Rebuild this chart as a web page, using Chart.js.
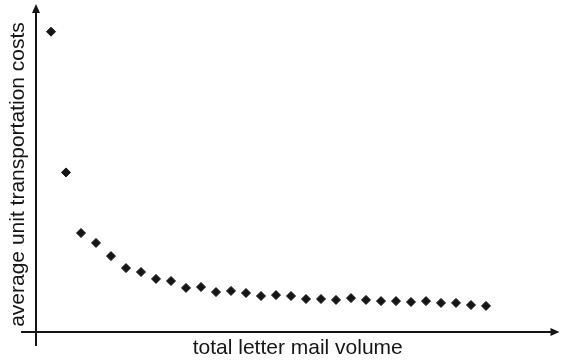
<!DOCTYPE html>
<html>
<head>
<meta charset="utf-8">
<script src="https://cdn.jsdelivr.net/npm/chart.js@4"></script>
<style>
  html, body { margin: 0; padding: 0; background: #fff; }
  #wrap { width: 565px; height: 361px; }
</style>
</head>
<body>
<div id="wrap"><canvas id="costChart" width="565" height="361"></canvas></div>
<script>
// letter mail volume (index) vs average unit transportation cost (arbitrary units)
const mailVolume = [1, 2, 3, 4, 5, 6, 7, 8, 9, 10, 11, 12, 13, 14, 15,
                    16, 17, 18, 19, 20, 21, 22, 23, 24, 25, 26, 27, 28, 29, 30];
const unitCosts = [10.01, 5.32, 3.30, 2.97, 2.53, 2.13, 2.00, 1.77, 1.70, 1.47,
                   1.50, 1.33, 1.37, 1.30, 1.20, 1.23, 1.20, 1.10, 1.10, 1.07,
                   1.13, 1.07, 1.03, 1.03, 1.00, 1.03, 0.97, 0.97, 0.90, 0.87];
const xTitle = 'total letter mail volume';
const yTitle = 'average unit transportation costs';

const ink = '#151515';

// axes drawn as plain lines with arrow heads, extending past the origin
const arrowAxes = {
    id: 'arrowAxes',
    beforeDatasetsDraw(chart) {
        const { ctx, chartArea: a } = chart;
        ctx.save();
        ctx.strokeStyle = ink;
        ctx.fillStyle = ink;
        ctx.lineWidth = 2;

        // y axis
        const yTip = a.top - 13;
        ctx.beginPath();
        ctx.moveTo(a.left, a.bottom + 14);
        ctx.lineTo(a.left, yTip + 6);
        ctx.stroke();
        ctx.beginPath();
        ctx.moveTo(a.left, yTip);
        ctx.lineTo(a.left - 4, yTip + 9);
        ctx.lineTo(a.left + 4, yTip + 9);
        ctx.closePath();
        ctx.fill();

        // x axis
        const xTip = a.right;
        ctx.beginPath();
        ctx.moveTo(a.left - 15, a.bottom);
        ctx.lineTo(xTip - 6, a.bottom);
        ctx.stroke();
        ctx.beginPath();
        ctx.moveTo(xTip, a.bottom);
        ctx.lineTo(xTip - 9, a.bottom - 4);
        ctx.lineTo(xTip - 9, a.bottom + 4);
        ctx.closePath();
        ctx.fill();
        ctx.restore();
    }
};

const titleFont = { family: '"Liberation Sans", Arial, Helvetica, sans-serif', size: 21, lineHeight: 1 };

new Chart(document.getElementById('costChart'), {
    type: 'scatter',
    data: {
        datasets: [{
            data: mailVolume.map((v, i) => ({ x: v, y: unitCosts[i] })),
            pointStyle: 'rectRot',
            pointRadius: 4.5,
            pointBorderWidth: 1,
            backgroundColor: ink,
            borderColor: ink
        }]
    },
    options: {
        responsive: false,
        animation: false,
        events: [],
        layout: { padding: { top: 17, right: 1, left: 0, bottom: 0 } },
        plugins: { legend: { display: false }, tooltip: { enabled: false } },
        scales: {
            x: {
                type: 'linear',
                min: 0,
                max: 34.9,
                grid: { display: false, drawTicks: false },
                border: { display: false },
                ticks: { display: false },
                title: {
                    display: true, text: xTitle, color: ink, font: titleFont,
                    padding: { top: 6.2, bottom: 1.8 }
                }
            },
            y: {
                min: 0,
                max: 10.5,
                grid: { display: false, drawTicks: false },
                border: { display: false },
                ticks: { display: false },
                title: {
                    display: true, text: yTitle, color: ink, font: titleFont,
                    padding: { top: 7.5, bottom: 7.5 }
                }
            }
        }
    },
    plugins: [arrowAxes]
});
</script>
</body>
</html>
